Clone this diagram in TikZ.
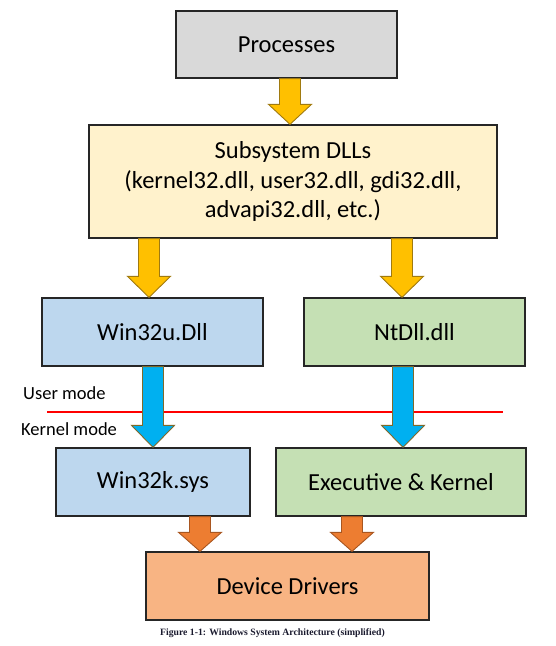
\documentclass[tikz,border=0pt]{standalone}
\usepackage{fontspec}
\setmainfont{Carlito}
\newfontfamily\capfont{Liberation Serif}
\usetikzlibrary{calc}
\definecolor{procfill}{HTML}{D9D9D9}
\definecolor{subfill}{HTML}{FFF2CC}
\definecolor{bluefill}{HTML}{BDD7EE}
\definecolor{greenfill}{HTML}{C5E0B4}
\definecolor{ddfill}{HTML}{F8B483}
\definecolor{yarrow}{HTML}{FFC000}
\definecolor{yarrowline}{HTML}{A07A10}
\definecolor{barrow}{HTML}{00B0F0}
\definecolor{barrowline}{HTML}{7F6A2A}
\definecolor{oarrow}{HTML}{ED7D31}
\definecolor{oarrowline}{HTML}{A85620}
\definecolor{boxline}{HTML}{262626}
\definecolor{capcol}{HTML}{1A1A2E}
\tikzset{
  box/.style={draw=boxline, line width=1.3pt, align=center, inner sep=0pt,
    font=\fontsize{24.5}{29.5}\selectfont},
  yellowarrow/.style={fill=yarrow, draw=yarrowline, line width=0.9pt, line join=miter},
  bluearrow/.style={fill=barrow, draw=barrowline, line width=0.9pt, line join=miter},
  orangearrow/.style={fill=oarrow, draw=oarrowline, line width=0.9pt, line join=miter},
  modelabel/.style={anchor=base west, inner sep=0pt, font=\fontsize{18.5}{22}\selectfont},
  divider/.style={draw=red, line width=1.8pt}
}
% #1 centre x (pt), #2 from node, #3 to node, #4 style, #5 head length (pt)
\newcommand\fatarrow[5]{%
  \draw[#4] let \p1=(#2.south), \p2=(#3.north), \p3=(#1pt,0pt) in
    ({\x3-10.5pt},\y1) -- ({\x3+10.5pt},\y1) -- ({\x3+10.5pt},{\y2+#5pt})
    -- ({\x3+21.5pt},{\y2+#5pt}) -- (\x3,\y2) -- ({\x3-21.5pt},{\y2+#5pt})
    -- ({\x3-10.5pt},{\y2+#5pt}) -- cycle;}
\begin{document}
\begin{tikzpicture}[x=1pt,y=1pt]
\useasboundingbox (0,0) rectangle (556,-646);
\node[box, fill=procfill, minimum width=221pt, minimum height=67pt] (proc) at (286.5,-44.5) {Processes};
\node[box, fill=subfill, minimum width=408pt, minimum height=113pt] (sub) at (293,-181.5)
  {Subsystem DLLs\\(kernel32.dll, user32.dll, gdi32.dll,\\advapi32.dll, etc.)};
\node[box, fill=bluefill, minimum width=221pt, minimum height=68pt] (w32u) at (152.5,-332) {Win32u.Dll};
\node[box, fill=greenfill, minimum width=221pt, minimum height=68pt] (ntdll) at (414.5,-332) {NtDll.dll};
\node[box, fill=bluefill, minimum width=194pt, minimum height=68pt] (w32k) at (153,-482) {Win32k.sys};
\node[box, fill=greenfill, minimum width=250pt, minimum height=68pt] (exec) at (401,-482) {Executive \& Kernel};
\node[box, fill=ddfill, minimum width=283pt, minimum height=68pt] (dd) at (287.5,-586) {Device Drivers};

\fatarrow{290}{proc}{sub}{yellowarrow}{20}
\fatarrow{149}{sub}{w32u}{yellowarrow}{21}
\fatarrow{402}{sub}{ntdll}{yellowarrow}{21}

\coordinate (divL) at (47,-412);
\coordinate (divR) at (503,-412);
\draw[divider] (divL) -- (divR);

\fatarrow{153}{w32u}{w32k}{bluearrow}{22}
\fatarrow{403}{ntdll}{exec}{bluearrow}{22}
\fatarrow{200}{w32k}{dd}{orangearrow}{19}
\fatarrow{352}{exec}{dd}{orangearrow}{19}

\node[modelabel] (user) at (23,-399) {User mode};
\node[modelabel] (kernel) at (21,-435) {Kernel mode};

\node[inner sep=0pt, text=capcol, font=\capfont\bfseries\fontsize{9.7}{11}\selectfont] (cap) at (272.5,-633) {Figure 1-1: Windows System Architecture (simplified)};
\end{tikzpicture}
\end{document}
